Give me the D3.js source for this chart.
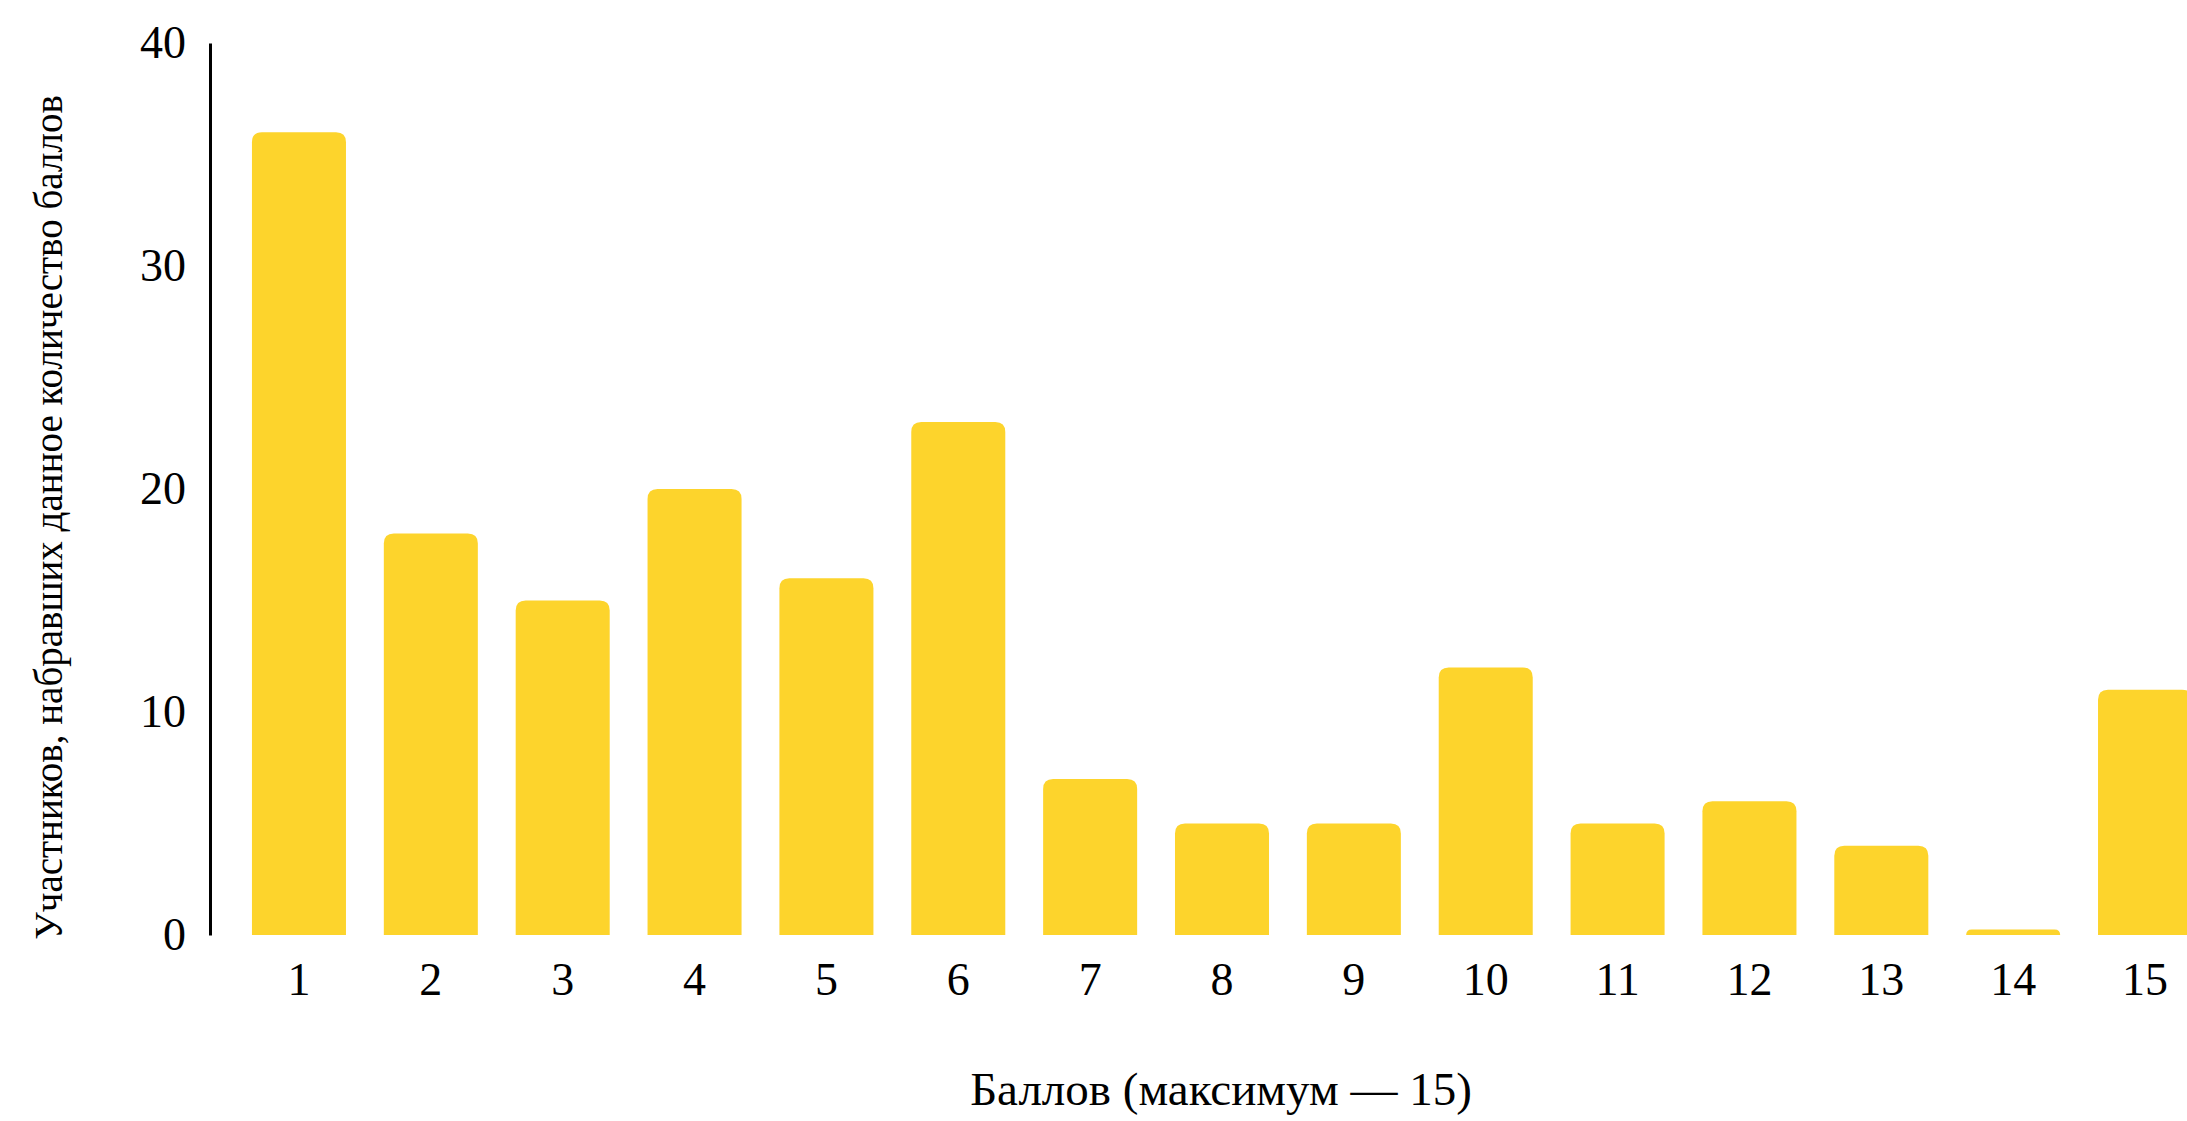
<!DOCTYPE html>
<html>
<head>
<meta charset="utf-8">
<script src="https://cdn.jsdelivr.net/npm/d3@7"></script>
<style>
  html, body { margin: 0; padding: 0; background: #fff; }
  svg { display: block; }
  text { font-family: "Liberation Serif", "Times New Roman", Times, serif; fill: #000; }
</style>
</head>
<body>
<svg id="chart" width="2187" height="1121"></svg>
<script>
const categories = ["1","2","3","4","5","6","7","8","9","10","11","12","13","14","15"];
const values = [36, 18, 15, 20, 16, 23, 7, 5, 5, 12, 5, 6, 4, 0.25, 11];
const yTicks = [0, 10, 20, 30, 40];
const xTitle = "Баллов (максимум — 15)";
const yTitle = "Участников, набравших данное количество баллов";

const W = 2187, H = 1121;
const margin = { left: 212.4, right: -44.6, top: 43, bottom: 186 };
const svg = d3.select("#chart");

const x = d3.scaleBand()
  .domain(categories)
  .range([margin.left, W - margin.right])
  .paddingInner(0.287)
  .paddingOuter(0.3);

const y = d3.scaleLinear()
  .domain([0, 40])
  .range([H - margin.bottom, margin.top]);

const r = 10;
function barPath(d, i) {
  const x0 = x(categories[i]), w = x.bandwidth();
  const y0 = y(0), y1 = y(d);
  const h = y0 - y1;
  const rr = Math.min(r, h, w / 2);
  return `M${x0},${y0} L${x0},${y1 + rr} Q${x0},${y1} ${x0 + rr},${y1} L${x0 + w - rr},${y1} Q${x0 + w},${y1} ${x0 + w},${y1 + rr} L${x0 + w},${y0} Z`;
}

svg.append("g").selectAll("path")
  .data(values)
  .join("path")
  .attr("d", (d, i) => barPath(d, i))
  .attr("fill", "#fdd42c");

// Y axis
const yAxis = d3.axisLeft(y).tickValues(yTicks).tickSize(0).tickPadding(24);
const gy = svg.append("g")
  .attr("transform", `translate(210,0)`)
  .call(yAxis);
gy.select(".domain").attr("stroke", "#000").attr("stroke-width", 3);
gy.selectAll("text").attr("font-size", 46).attr("font-family", "Liberation Serif");

// X axis
const xAxis = d3.axisBottom(x).tickSize(0).tickPadding(27);
const gx = svg.append("g")
  .attr("transform", `translate(0,${y(0)})`)
  .call(xAxis);
gx.select(".domain").remove();
gx.selectAll("text").attr("font-size", 46).attr("font-family", "Liberation Serif");

// Titles
svg.append("text")
  .attr("x", 1221)
  .attr("y", 1105)
  .attr("text-anchor", "middle")
  .attr("font-size", 47)
  .text(xTitle);

svg.append("text")
  .attr("transform", `translate(62,${(98 + 937) / 2}) rotate(-90)`)
  .attr("text-anchor", "middle")
  .attr("font-size", 39)
  .text(yTitle);
</script>
</body>
</html>
